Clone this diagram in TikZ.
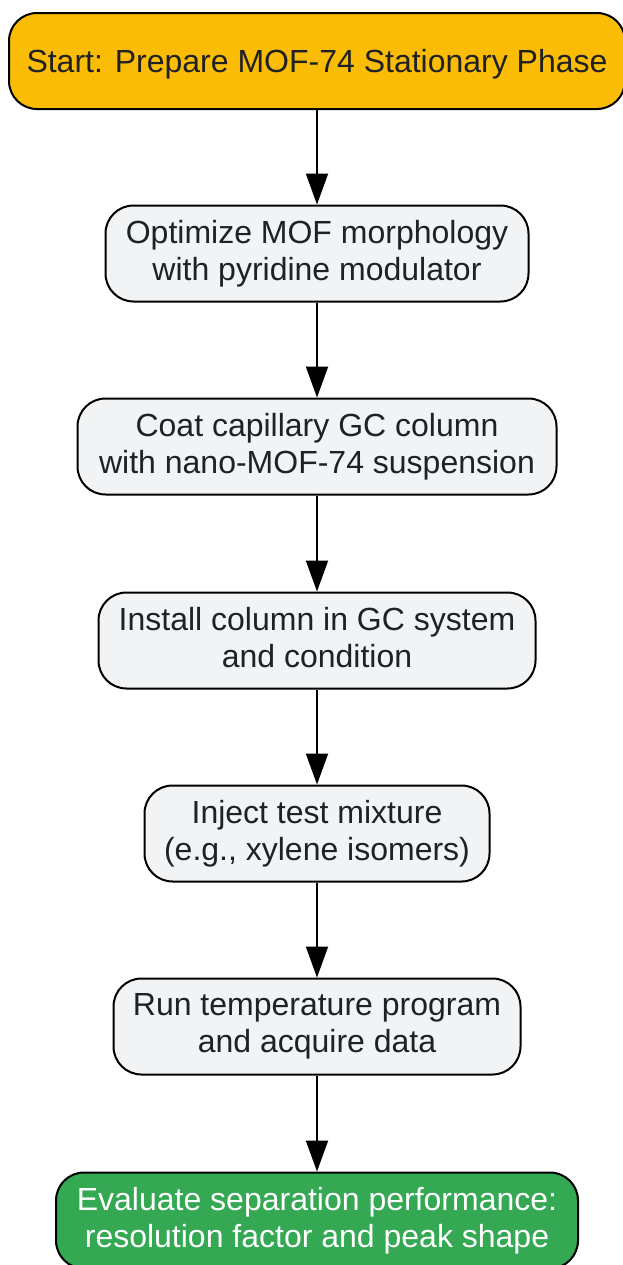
\documentclass[tikz,border=0pt]{standalone}
\usepackage{fontspec}
\setmainfont{Liberation Sans}
\usetikzlibrary{arrows.meta}
\definecolor{startc}{HTML}{FBBC05}
\definecolor{stepc}{HTML}{F1F3F4}
\definecolor{endc}{HTML}{34A853}
\definecolor{txtc}{HTML}{202124}
\newcommand\lnstrut{\rule[-0.212em]{0pt}{1.117em}}
\tikzset{
  box/.style={draw=black, line width=1pt, rounded corners=14pt, inner sep=0pt,
    minimum height=48pt, align=center, text=txtc,
    font=\fontsize{16}{18.5}\selectfont,
    execute at begin node=\lnstrut, execute at end node=\lnstrut},
  stepbox/.style={box, fill=stepc},
  startbox/.style={box, fill=startc},
  endbox/.style={box, fill=endc, text=white},
  arr/.style={draw=black, line width=1pt, -{Triangle[length=15.5pt,width=11pt]}}
}
\begin{document}
\begin{tikzpicture}[x=0.5pt,y=-0.5pt]
\useasboundingbox (0,0) rectangle (622,1265);
\node[startbox, minimum width=308pt] (b1) at (317,61) {Start: Prepare MOF-74 Stationary Phase};
\node[stepbox, minimum width=211.5pt] (b2) at (317,253.5) {Optimize MOF morphology\\with pyridine modulator};
\node[stepbox, minimum width=239.5pt] (b3) at (317,446.5) {Coat capillary GC column\\with nano-MOF-74 suspension};
\node[stepbox, minimum width=218.5pt] (b4) at (317,640.5) {Install column in GC system\\and condition};
\node[stepbox, minimum width=172.5pt] (b5) at (317,833.5) {Inject test mixture\\(e.g., xylene isomers)};
\node[stepbox, minimum width=203.5pt] (b6) at (317,1026.5) {Run temperature program\\and acquire data};
\node[endbox, minimum width=261pt] (b7) at (317,1220.5) {Evaluate separation performance:\\resolution factor and peak shape};
\draw[arr] (b1) -- (b2);
\draw[arr] (b2) -- (b3);
\draw[arr] (b3) -- (b4);
\draw[arr] (b4) -- (b5);
\draw[arr] (b5) -- (b6);
\draw[arr] (b6) -- (b7);
\end{tikzpicture}
\end{document}
